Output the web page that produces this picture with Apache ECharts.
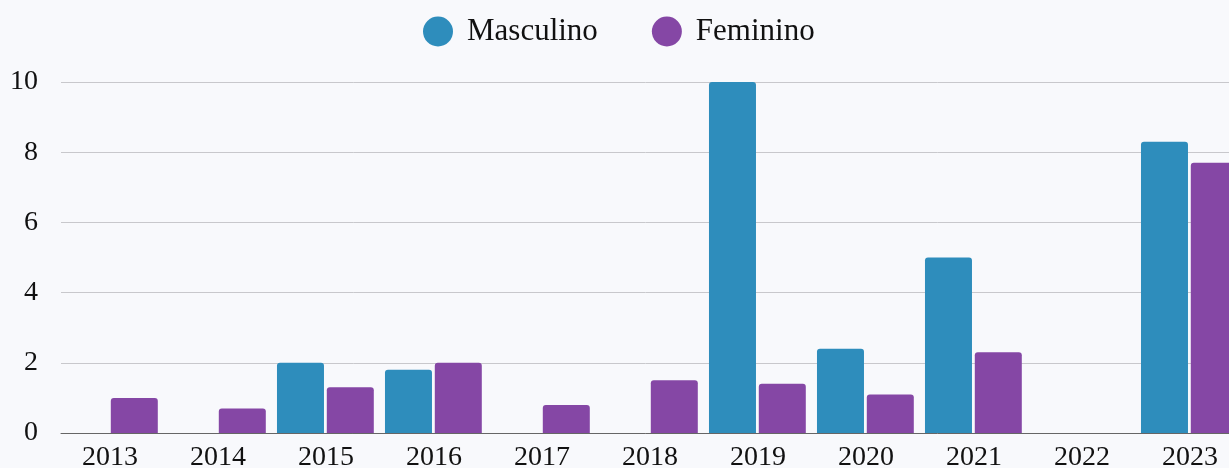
<!DOCTYPE html>
<html>
<head>
<meta charset="utf-8">
<script src="https://cdn.jsdelivr.net/npm/echarts@6/dist/echarts.min.js"></script>
<style>
  html, body { margin: 0; padding: 0; background: #f8f9fc; }
  #chart { width: 1229px; height: 468px; }
</style>
</head>
<body>
<div id="chart"></div>
<script>
const years = ['2013', '2014', '2015', '2016', '2017', '2018', '2019', '2020', '2021', '2022', '2023'];
const masculino = [0, 0, 2, 1.8, 0, 0, 10, 2.4, 5, 0, 8.3];
const feminino = [1, 0.7, 1.3, 2, 0.8, 1.5, 1.4, 1.1, 2.3, 0, 7.7];
const yTicks = { min: 0, max: 10, interval: 2 };

const BLUE = '#2e8dbc';
const PURPLE = '#8547a5';
const FONT = '"Liberation Serif", "Times New Roman", serif';

const chart = echarts.init(document.getElementById('chart'));

const barBase = {
  type: 'bar',
  barWidth: 47,
  barGap: '6%'
};

chart.setOption({
  backgroundColor: '#f8f9fc',
  textStyle: { fontFamily: FONT },
  legend: {
    data: ['Masculino', 'Feminino'],
    top: 11,
    left: 418,
    icon: 'circle',
    itemWidth: 30,
    itemHeight: 30,
    itemGap: 54,
    textStyle: { fontFamily: FONT, fontSize: 31, color: '#111', padding: [0, 0, 0, 9] }
  },
  // plot runs past the right edge, the last band is cut like in the source
  grid: { left: 61, top: 82, width: 1188, height: 351, outerBoundsMode: 'none', containLabel: false },
  xAxis: {
    type: 'category',
    data: years,
    axisTick: { show: false },
    axisLine: { lineStyle: { color: '#666', width: 1 } },
    // right padding pulls each year under its pair of bars
    axisLabel: { color: '#111', fontFamily: FONT, fontSize: 28, margin: 11, padding: [0, 10, 0, 0] }
  },
  yAxis: {
    type: 'value',
    min: yTicks.min,
    max: yTicks.max,
    interval: yTicks.interval,
    axisLabel: { color: '#111', fontFamily: FONT, fontSize: 28, margin: 23 },
    splitLine: { lineStyle: { color: '#c8c8cc', width: 1 } }
  },
  series: [
    Object.assign({}, barBase, { name: 'Masculino', data: masculino, itemStyle: { color: BLUE, borderRadius: [3, 3, 0, 0] } }),
    Object.assign({}, barBase, { name: 'Feminino', data: feminino, itemStyle: { color: PURPLE, borderRadius: [3, 3, 0, 0] } }),
    // empty slot series that keeps the bar pair left in each band
    { type: 'bar', name: '_slot', data: [], barWidth: 8.4, silent: true, itemStyle: { color: 'transparent' } }
  ]
});
</script>
</body>
</html>
